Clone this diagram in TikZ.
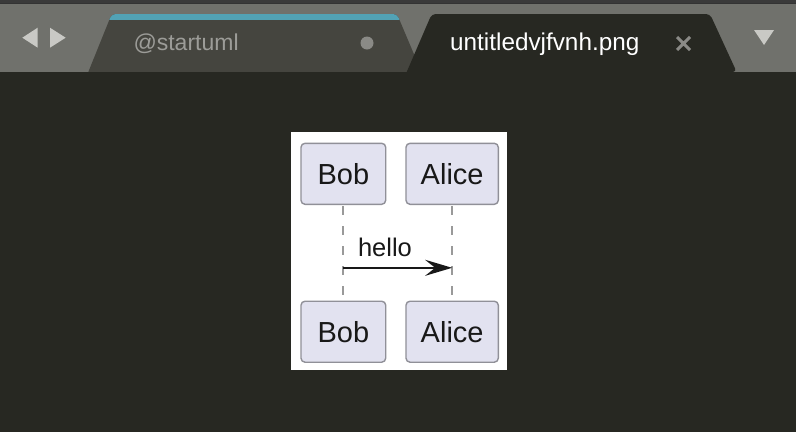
\documentclass[tikz,border=0pt]{standalone}
\usepackage{fontspec}
\setmainfont{Liberation Sans}
\usetikzlibrary{arrows.meta}
\definecolor{barbg}{HTML}{70716C}
\definecolor{topstrip}{HTML}{3A3A3A}
\definecolor{edbg}{HTML}{272822}
\definecolor{tabinact}{HTML}{45453F}
\definecolor{tabblue}{HTML}{52A2B5}
\definecolor{navgray}{HTML}{C9C9C5}
\definecolor{dimtext}{HTML}{9C9C98}
\definecolor{dotgray}{HTML}{8A8A86}
\definecolor{boxfill}{HTML}{E2E2F0}
\definecolor{boxline}{HTML}{909098}
\definecolor{lifegray}{HTML}{999999}
\definecolor{inkdark}{HTML}{181818}
\tikzset{
  participant/.style={draw=boxline, line width=1.4pt, fill=boxfill, rounded corners=4pt,
    minimum width=#1, minimum height=61pt, inner sep=0pt, text=inkdark,
    font=\fontsize{29}{30}\selectfont},
  lifeline/.style={draw=lifegray, line width=2pt, dash pattern=on 9pt off 11pt, dash phase=-1pt},
  msg/.style={draw=inkdark, line width=2pt, -{Stealth[length=27pt,width=16pt,inset=10pt]}},
  tablabel/.style={anchor=base west, inner sep=0pt, font=\fontsize{23}{24}\selectfont}
}
\begin{document}
\begin{tikzpicture}[x=1pt,y=-1pt]
\useasboundingbox (0,0) rectangle (796,432);
% backgrounds
\fill[barbg] (0,0) rectangle (796,72);
\fill[topstrip] (0,0) rectangle (796,3);
\fill[black!80] (0,3) rectangle (796,4.2);
\fill[edbg] (0,72) rectangle (796,432);
% navigation arrows
\fill[navgray] (37.7,27.7) -- (37.7,47.7) -- (22.3,37.7) -- cycle;
\fill[navgray] (50,27.7) -- (50,47.7) -- (65.7,37.7) -- cycle;
% inactive tab
\begin{scope}
  \clip (88.3,72) [rounded corners=4pt] -- (111.7,14) -- (397,14) -- (421.5,72) [sharp corners] -- cycle;
  \fill[tabinact] (80,10) rectangle (430,72);
  \fill[tabblue] (80,10) rectangle (430,19.5);
\end{scope}
\node[tablabel, text=dimtext] (tab1) at (133.3,50) {@startuml};
\fill[dotgray] (367,43) circle (6.5pt);
% active tab
\fill[edbg] (406.7,72) [rounded corners=4pt] -- (431.7,14) -- (710,14) -- (736.7,72) [sharp corners] -- cycle;
\node[tablabel, text=white, font=\fontsize{24.3}{25}\selectfont] (tab2) at (450,50.5) {untitledvjfvnh.png};
\draw[dotgray, line width=3pt] (677,37) -- (690,50) (690,37) -- (677,50);
% dropdown
\fill[navgray] (754,30) -- (774,30) -- (764,45) -- cycle;
% diagram canvas
\fill[white] (291,132.3) rectangle (506.7,370);
\node[participant=84.7pt] (bob1) at (343.35,173.8) {Bob};
\node[participant=92.3pt] (alice1) at (452.15,173.8) {Alice};
\node[participant=84.7pt] (bob2) at (343.35,331.7) {Bob};
\node[participant=92.3pt] (alice2) at (452.15,331.7) {Alice};
\draw[lifeline] (bob1.south) -- (bob2.north);
\draw[lifeline] (alice1.south) -- (alice2.north);
\coordinate (ymsg) at (0,267.8);
\coordinate (msgstart) at (bob1.south |- ymsg);
\coordinate (msgend) at (alice1.south |- ymsg);
\draw[msg] (msgstart) -- (msgend);
\node[anchor=base west, inner sep=0pt, text=inkdark, font=\fontsize{25.5}{26}\selectfont] (hello) at (357.8,256.7) {hello};
\end{tikzpicture}
\end{document}
